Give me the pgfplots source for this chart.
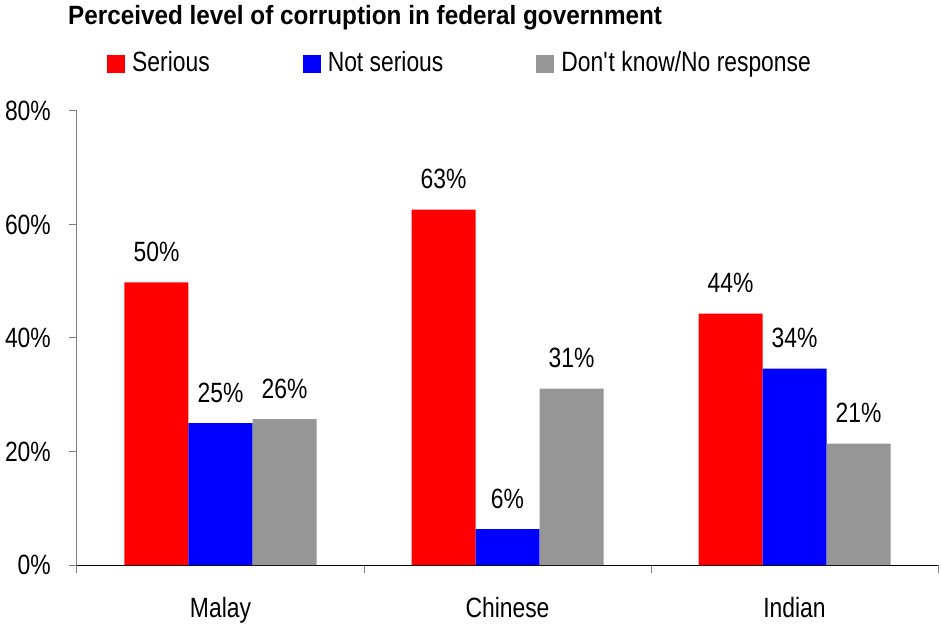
\documentclass[border=0pt]{standalone}
\usepackage{fontspec}
\setmainfont[FakeStretch=0.82]{Liberation Sans}
\newfontfamily\titlefont[FakeStretch=0.92]{Liberation Sans}
\usepackage{pgfplots}
\pgfplotsset{compat=1.18}
\definecolor{dkgray}{HTML}{969696}
\definecolor{tickgray}{HTML}{808080}
\begin{document}
\fontsize{28}{33}\selectfont
\begin{tikzpicture}
\useasboundingbox (-77bp,-59bp) rectangle (864bp,565bp);
\begin{axis}[
  at={(0,0)}, anchor=south west,
  scale only axis, width=861bp, height=454bp,
  xmin=-0.5, xmax=2.5, ymin=0, ymax=80,
  ybar=0pt, bar width=64bp,
  axis x line=bottom, axis y line=left,
  x axis line style={black,-,line width=1bp},
  y axis line style={tickgray,-,line width=1bp},
  tick align=outside, major tick length=8bp,
  tick style={tickgray,line width=1bp},
  ytick={0,20,40,60,80},
  yticklabels={0\%,20\%,40\%,60\%,80\%},
  yticklabel style={anchor=east, inner sep=0pt, xshift=-18bp},
  xtick={-0.5,0.5,1.5,2.5}, xticklabels={},
  extra x ticks={0,1,2},
  extra x tick labels={Malay,Chinese,Indian},
  extra x tick style={major tick length=0pt, xticklabel style={anchor=base, inner sep=0pt, yshift=-52bp}},
  point meta=explicit symbolic,
  nodes near coords={\pgfplotspointmeta\%},
  every node near coord/.append style={anchor=base, inner sep=0pt, yshift=21bp, black},
  legend columns=3,
  legend cell align=left,
  legend style={draw=none, fill=none, inner sep=0pt, nodes={inner sep=0pt},
    at={(30/861,501.5/454)}, anchor=west,
    /tikz/every odd column/.append style={column sep=7bp},
    /tikz/every even column/.append style={column sep=93bp}},
  legend image code/.code={\fill[#1] (0bp,-9bp) rectangle (18bp,9bp);},
]
\addplot[fill=red, draw=none] coordinates {(0,49.8) [50] (1,62.6) [63] (2,44.3) [44]};
\addplot[fill=blue, draw=none] coordinates {(0,25.0) [25] (1,6.3) [6] (2,34.6) [34]};
\addplot[fill=dkgray, draw=none] coordinates {(0,25.7) [26] (1,31.1) [31] (2,21.4) [21]};
\legend{Serious,Not serious,Don\textquotesingle t know/No response}
\end{axis}
\node[anchor=base west, inner sep=0pt, font=\titlefont\fontsize{26.5}{30}\selectfont\bfseries] at (-9bp,540bp) {Perceived level of corruption in federal government};
\end{tikzpicture}
\end{document}
